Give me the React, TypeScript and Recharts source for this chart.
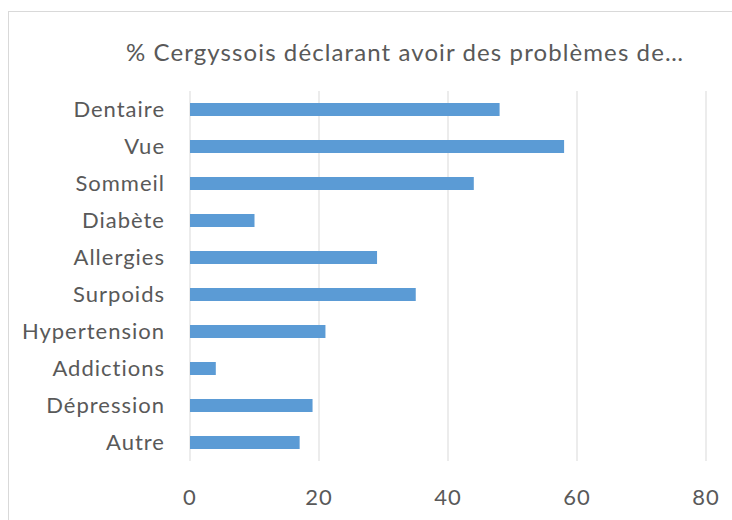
import React from "react";
import { BarChart, Bar, XAxis, YAxis, CartesianGrid } from "recharts";

const categories = ["Dentaire", "Vue", "Sommeil", "Diabète", "Allergies", "Surpoids", "Hypertension", "Addictions", "Dépression", "Autre"];
const values = [48, 58, 44, 10, 29, 35, 21, 4, 19, 17];
const xTicks = [0, 20, 40, 60, 80];
const title = "% Cergyssois déclarant avoir des problèmes de…";

const data = categories.map((c, i) => ({ name: c, value: values[i] }));

const FONT = "Lato, sans-serif";
const COLOR = "#595959";

export default function App() {
  return (
    <div style={{ position: "fixed", left: 0, top: 0, width: 732, height: 520, background: "#fff", overflow: "hidden" }}>
      <div style={{ position: "absolute", left: 8, top: 11, width: 800, height: 600, border: "1px solid #d9d9d9", boxSizing: "border-box" }} />
      <div style={{ position: "absolute", left: 0, width: 810, top: 37, textAlign: "center", fontFamily: FONT, fontSize: 24, letterSpacing: 1.1, color: COLOR, whiteSpace: "nowrap" }}>{title}</div>
      <div style={{ position: "absolute", left: 0, top: 0 }}>
        <BarChart width={732} height={520} data={data} layout="vertical" margin={{ top: 91, bottom: 0, left: 0, right: 26 }} barSize={13}>
          <CartesianGrid horizontal={false} vertical={true} stroke="#d9d9d9" />
          <XAxis type="number" domain={[0, 80]} ticks={xTicks} axisLine={false} tickLine={false} tickMargin={22} height={59} tick={{ fill: COLOR, fontSize: 22, fontFamily: FONT, letterSpacing: 1 }} />
          <YAxis type="category" dataKey="name" width={190} axisLine={false} tickLine={false} tickMargin={19} tick={{ fill: COLOR, fontSize: 22, fontFamily: FONT, letterSpacing: 1 }} />
          <Bar dataKey="value" fill="#5B9BD5" isAnimationActive={false} />
        </BarChart>
      </div>
    </div>
  );
}
